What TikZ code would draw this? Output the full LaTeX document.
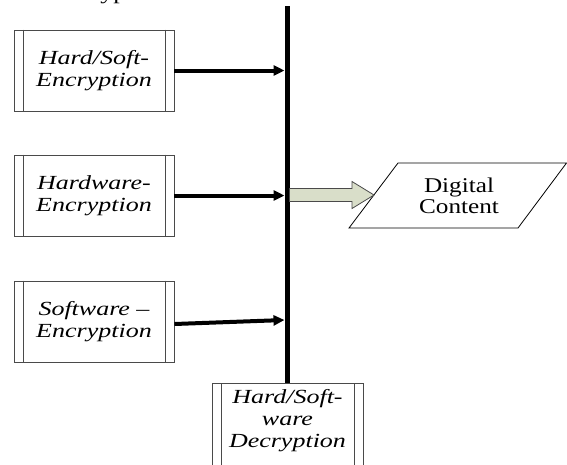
\documentclass[tikz,border=0pt]{standalone}
\usepackage{fontspec}
\setmainfont{Liberation Serif}
\newfontfamily\wideserif[FakeStretch=1.3]{Liberation Serif}
\newfontfamily\widerserif[FakeStretch=1.2]{Liberation Serif}
\usetikzlibrary{arrows.meta}
\definecolor{boxgray}{HTML}{4A4A4A}
\definecolor{sage}{HTML}{D9DEC9}
\begin{document}
\begin{tikzpicture}[x=1pt,y=-1pt,
  encbox/.style={draw=boxgray, line width=0.9pt, minimum width=160pt,
    minimum height=81pt, inner sep=0pt, align=center,
    font=\wideserif\itshape\fontsize{20}{22}\selectfont},
  flow/.style={line width=4pt, -{Triangle[length=11pt,width=10pt]}},
  bus/.style={line width=5pt},
  blockarrow/.style={fill=sage, draw=boxgray, line width=0.8pt, line join=miter},
  datashape/.style={draw=black, line width=0.8pt, fill=white}]
\useasboundingbox (0,0) rectangle (567,464);

% caption running off the upper edge
\node[anchor=base west, inner sep=0pt, font=\wideserif\fontsize{20}{22}\selectfont] (caption) at (93,-1) {type};

% encryption sources
\node[encbox] (b1) at (94,70.5) {Hard/Soft-\\Encryption};
\node[encbox] (b2) at (94,195.5) {Hardware-\\Encryption};
\node[encbox] (b3) at (94,321.5) {Software \textendash\\Encryption};

% decryption block (runs past the lower edge)
\node[encbox, minimum width=151pt, minimum height=92pt, anchor=north] (dec) at (287.5,383) {};
\node[align=center, inner sep=0pt, font=\wideserif\itshape\fontsize{20}{22}\selectfont] (dectext) at (287.5,421) {Hard/Soft-\\ware\\Decryption};

% inner bars of the predefined-process boxes
\foreach \n in {b1,b2,b3,dec} {
  \draw[boxgray, line width=0.9pt] ([xshift=9.5pt]\n.north west) -- ([xshift=9.5pt]\n.south west);
  \draw[boxgray, line width=0.9pt] ([xshift=-9.5pt]\n.north east) -- ([xshift=-9.5pt]\n.south east);
}

% shared bus
\coordinate (bustop) at (287,6);
\draw[bus] (bustop) -- (dec.north -| bustop);
\coordinate (busleft) at (284.5,6);

% source connectors
\draw[flow] (b1.east) -- (b1.east -| busleft);
\draw[flow] (b2.east) -- (b2.east -| busleft);
\coordinate (e3) at (b3.east -| busleft);
\draw[flow] ([yshift=-2.5pt]b3.east) -- ([yshift=1.5pt]e3);

% digital content
\coordinate (dcbl) at (349,228);
\coordinate (dctl) at (398,163);
\coordinate (dctr) at (566.5,163);
\coordinate (dcbr) at (518,228);
\draw[datashape] (dcbl) -- (dctl) -- (dctr) -- (dcbr) -- cycle;
\node[align=center, inner sep=0pt, font=\widerserif\fontsize{21}{21}\selectfont] (dc) at (459,196) {Digital\\Content};

% block arrow from the bus to the content
\draw[blockarrow] (289.5,188.5) -- (352,188.5) -- (352,181.5) -- (374,195)
  -- (352,208.5) -- (352,201.5) -- (289.5,201.5) -- cycle;
\end{tikzpicture}
\end{document}
